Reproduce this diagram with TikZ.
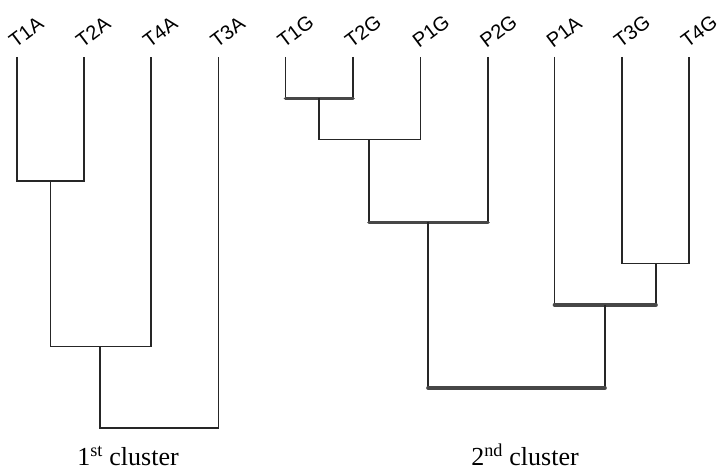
\documentclass[tikz,border=0pt]{standalone}
\usepackage{fontspec}
\setmainfont{Liberation Serif}
\newfontfamily\labfont{Liberation Sans}
\begin{document}
\begin{tikzpicture}[x=1pt,y=1pt,
  thinline/.style={draw=black!85,line width=1.1pt},
  thickline/.style={draw=black!72,line width=3.6pt,line cap=round},
  leaflab/.style={anchor=base west,rotate=37,inner sep=0pt,font=\labfont\fontsize{20}{24}\selectfont,text=black},
  clusterlab/.style={anchor=base,inner sep=0pt,font=\fontsize{26}{30}\selectfont}]
\useasboundingbox (0,0) rectangle (720,470);
% leaf tops
\foreach \n/\x in {T1A/17,T2A/84,T4A/151,T3A/218.5,T1G/285.5,T2G/353,P1G/420.5,P2G/488,P1A/554.5,T3G/622,T4G/689}{
  \coordinate (\n) at (\x,413);
  \node[leaflab] (lab\n) at (\x-1.5,421) {\n};
}
% join points
\coordinate (c1) at (50.5,289);
\coordinate (c2) at (100,123.5);
\coordinate (c3) at (159,42);
\coordinate (g1) at (319,371.5);
\coordinate (g2) at (369,330.5);
\coordinate (g3) at (428,247.5);
\coordinate (g4) at (656,206.5);
\coordinate (g5) at (605,165);
\coordinate (g6) at (516,82);
% first cluster
\draw[thinline] (T1A) |- (c1) -| (T2A);
\draw[thinline] (c1) |- (c2) -| (T4A);
\draw[thinline] (c2) |- (c3) -| (T3A);
% second cluster
\draw[thinline] (T1G) -- (T1G |- g1);
\draw[thinline] (T2G) -- (T2G |- g1);
\draw[thickline] (T1G |- g1) -- (T2G |- g1);
\draw[thinline] (g1) |- (g2) -| (P1G);
\draw[thinline] (g2) -- (g2 |- g3);
\draw[thinline] (P2G) -- (P2G |- g3);
\draw[thickline] (g2 |- g3) -- (P2G |- g3);
\draw[thinline] (T3G) |- (g4) -| (T4G);
\draw[thinline] (P1A) -- (P1A |- g5);
\draw[thinline] (g4) -- (g4 |- g5);
\draw[thickline] (P1A |- g5) -- (g4 |- g5);
\draw[thinline] (g3) -- (g3 |- g6);
\draw[thinline] (g5) -- (g5 |- g6);
\draw[thickline] (g3 |- g6) -- (g5 |- g6);
% cluster labels
\node[clusterlab] (cl1) at (128,4.5) {1\textsuperscript{st} cluster};
\node[clusterlab] (cl2) at (525,4.5) {2\textsuperscript{nd} cluster};
\end{tikzpicture}
\end{document}
